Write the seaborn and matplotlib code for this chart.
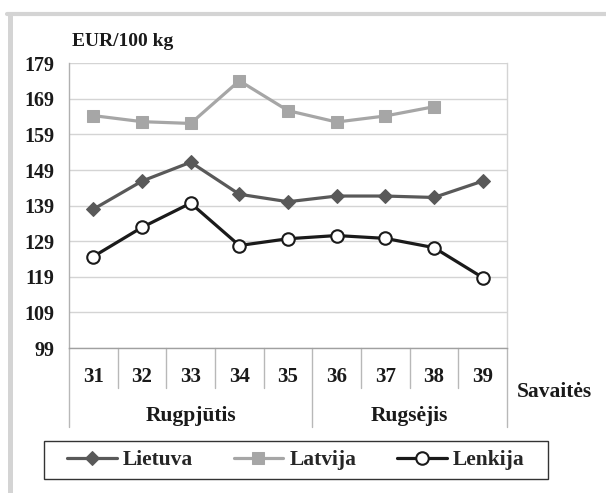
import matplotlib
matplotlib.use("Agg")
import matplotlib.pyplot as plt
from matplotlib.lines import Line2D
from matplotlib.patches import Rectangle
import matplotlib.transforms as mtransforms
import seaborn as sns
import numpy as np
import pandas as pd

weeks = ["31", "32", "33", "34", "35", "36", "37", "38", "39"]
months = ["Rugpjūtis", "Rugsėjis"]
lietuva = [138.0, 145.9, 151.2, 142.2, 140.1, 141.7, 141.7, 141.3, 145.9]
latvija = [164.3, 162.6, 162.1, 174.1, 165.7, 162.5, 164.2, 166.8, np.nan]
lenkija = [124.7, 132.9, 139.7, 127.8, 129.7, 130.6, 129.8, 127.2, 118.8]
yticks = [99, 109, 119, 129, 139, 149, 159, 169, 179]

sns.set_theme(style="white")
plt.rcParams['font.family'] = ['Liberation Serif', 'DejaVu Serif']
plt.rcParams['font.weight'] = 'bold'

W, H = 606, 493
fig = plt.figure(figsize=(W / 100, H / 100), dpi=100)
L, R, T, B = 69, 507, 63.3, 348
ax = fig.add_axes([L / W, 1 - B / H, (R - L) / W, (B - T) / H])

pos = list(range(len(weeks)))
df = pd.DataFrame({"x": pos, "Lietuva": lietuva, "Latvija": latvija, "Lenkija": lenkija})

sns.lineplot(data=df, x="x", y="Lietuva", ax=ax, color="#595959", lw=2.3,
             marker="D", markersize=7.5, markeredgecolor="#595959", label="Lietuva")
sns.lineplot(data=df.dropna(), x="x", y="Latvija", ax=ax, color="#a6a6a6", lw=2.3,
             marker="s", markersize=9, markeredgecolor="#a6a6a6", label="Latvija")
sns.lineplot(data=df, x="x", y="Lenkija", ax=ax, color="#1a1a1a", lw=2.3,
             marker="o", markersize=9, markerfacecolor="white",
             markeredgecolor="#1a1a1a", markeredgewidth=1.5, label="Lenkija")

ax.set_xlim(-0.5, len(weeks) - 0.5)
ax.set_ylim(99, 179)
ax.set_yticks(yticks)
ax.set_yticklabels([str(v) for v in yticks], fontsize=14.5, fontweight='bold')
ax.tick_params(axis='y', length=0, pad=10.5, colors='#1a1a1a')
ax.set_xticks([])
ax.set_xlabel("")
ax.set_ylabel("")
ax.grid(axis='y', color='#d4d4d4', lw=1)
ax.set_axisbelow(True)
ax.spines['top'].set_visible(False)
ax.spines['left'].set_color('#b0b0b0')
ax.spines['right'].set_color('#d4d4d4')
ax.spines['bottom'].set_color('#a0a0a0')
for s in ax.spines.values():
    s.set_linewidth(1)
ax.get_legend().remove()

trans = mtransforms.blended_transform_factory(ax.transData, ax.transAxes)
hpx = B - T
minor_drop = -(388 - B) / hpx
major_drop = -(427 - B) / hpx
for i in range(len(weeks) + 1):
    xb = i - 0.5
    yb = major_drop if i in (0, 5, len(weeks)) else minor_drop
    ax.add_line(Line2D([xb, xb], [0, yb], transform=trans, color='#b8b8b8',
                       lw=1, clip_on=False))
lab_y = -(377 - B) / hpx
for i, w in enumerate(weeks):
    ax.text(i, lab_y, w, transform=trans, ha='center', va='center',
            fontsize=15, fontweight='bold', color='#1a1a1a')
mon_y = -(416 - B) / hpx
ax.text(2.0, mon_y, months[0], transform=trans, ha='center', va='center',
        fontsize=15.5, fontweight='bold', color='#1a1a1a')
ax.text(6.5, mon_y, months[1], transform=trans, ha='center', va='center',
        fontsize=15.5, fontweight='bold', color='#1a1a1a')

fig.text(554 / W, 1 - 392 / H, "Savaitės", ha='center', va='center',
         fontsize=15.5, fontweight='bold', color='#1a1a1a')
fig.text(72 / W, 1 - 42 / H, "EUR/100 kg", ha='left', va='center',
         fontsize=14, fontweight='bold', color='#1a1a1a')

# legend frame box
fig.add_artist(Rectangle((44 / W, 1 - 479 / H), (548 - 44) / W, 38 / H,
                         transform=fig.transFigure, facecolor='white',
                         edgecolor='#333333', lw=1, zorder=1))
handles, labels = ax.get_legend_handles_labels()
leg = fig.legend(handles, labels, loc='center left',
                 bbox_to_anchor=(67 / W, 1 - 460 / H),
                 ncol=3, frameon=False,
                 handlelength=2.3, handletextpad=0.28, borderaxespad=0,
                 borderpad=0, columnspacing=1.9,
                 prop={'size': 15.5, 'weight': 'bold'})
leg.set_zorder(2)

# outer light-gray frame
fig.add_artist(Line2D([9.5 / W, 9.5 / W], [0, 1 - 14 / H], transform=fig.transFigure,
                      color='#d4d4d4', lw=3.6))
fig.add_artist(Line2D([7 / W, 1], [1 - 14 / H, 1 - 14 / H], transform=fig.transFigure,
                      color='#d4d4d4', lw=3))

fig.savefig("out.png", dpi=100)
